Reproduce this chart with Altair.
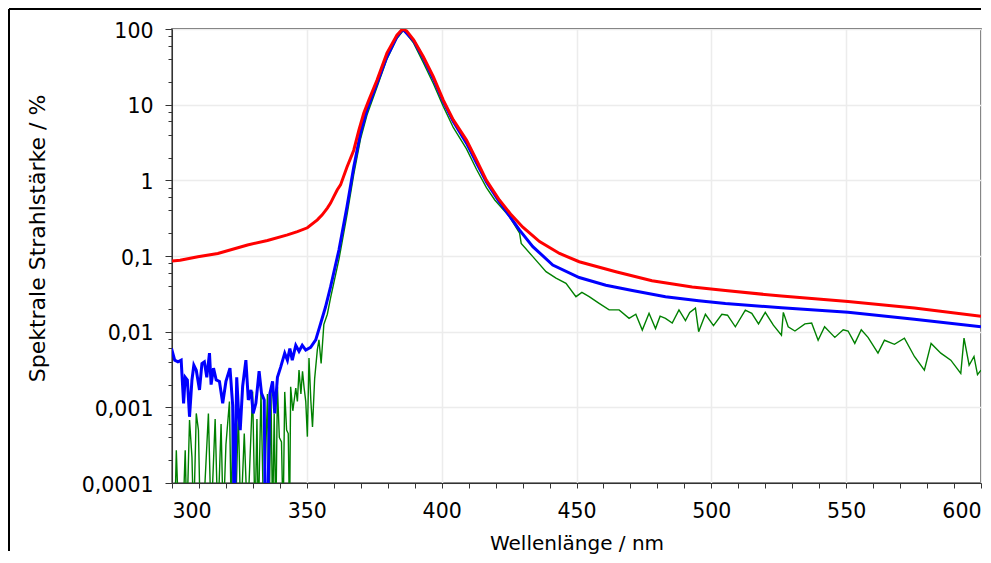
import altair as alt
import pandas as pd

# ---------------- data ----------------
red_nm = [300, 303, 309.6, 317, 328, 335.4, 342.8, 346.5, 350.2, 353.9, 355.7, 357.6,
          358.8, 360.0, 361.3, 362.5,
          364.9, 367.4, 369.3, 371.1, 373.0, 376.0, 379.7, 383.4, 385.5, 387.0, 389.6,
          393.2, 396.9, 400.6, 404.3, 409.2, 412.9, 416.6, 421.4, 425.8, 430.1, 436.3, 443.7,
          451, 464.6, 478, 492.9, 505.2, 526, 550.7, 575.3, 600]
red_val = [0.086, 0.088, 0.098, 0.108, 0.14, 0.16, 0.19, 0.21, 0.236, 0.30, 0.35, 0.43,
           0.50, 0.61, 0.75, 0.87,
           1.5, 2.5, 4.6, 7.7, 11.5, 21, 48, 83, 100, 94, 72,
           43, 23.5, 11.5, 6.3, 3.4, 1.86, 1.0, 0.55, 0.35, 0.24, 0.155, 0.108,
           0.084, 0.062, 0.047, 0.039, 0.035, 0.0295, 0.025, 0.0205, 0.016]

blue_nm = [299.8, 301.0, 302.2, 303.4, 304.3, 304.9, 305.7, 306.5, 307.4, 308.1, 309.0,
           310.2, 311.1, 312.0, 312.9, 313.9, 314.5, 315.4, 316.4, 317.6, 318.8, 320.0,
           321.5, 322.5, 323.1, 324.0, 324.7, 325.3, 326.2, 327.4, 328.3, 329.3, 330.1,
           331.1, 332.3, 333.2, 334.2, 334.6, 335.4, 336.3, 337.3, 338.1, 339.1, 340.3,
           341.8, 342.8, 343.7, 344.6, 345.9, 347.1, 348.3, 349.6, 351.4, 353.3, 355.1,
           356.9, 358.8, 361.9, 364.9, 367.4, 369.9, 372.3, 376.0, 379.7, 383.4, 385.6,
           389.6, 393.2, 396.9, 400.6, 404.3, 409.2, 412.9, 416.6, 420.9, 428.9, 433.8,
           441.2, 451, 460.9, 470.7, 483, 495.3, 505.2, 526, 550.7, 575.3, 600]
blue_val = [0.0060, 0.0042, 0.0040, 0.0042, 0.00113, 0.0025, 0.0023, 0.00075, 0.0023, 0.0036, 0.0031,
            0.0017, 0.0038, 0.0040, 0.0025, 0.0052, 0.0020, 0.0033, 0.0023, 0.0022, 0.00113, 0.0022,
            0.0033, 0.00107, 0.00003, 0.0025, 0.00083, 0.0005, 0.0019, 0.0042, 0.00125, 0.0017, 0.00083,
            0.00113, 0.0030, 0.00153, 0.00125, 0.00003, 0.00003, 0.00153, 0.0022, 0.00083, 0.0025, 0.0034,
            0.0052, 0.0042, 0.0060, 0.0042, 0.0066, 0.0055, 0.0066, 0.0057, 0.0062, 0.0078, 0.0128,
            0.021, 0.039, 0.12, 0.45, 1.5, 4.2, 8.5, 19, 43, 79, 99,
            70, 41, 22, 11, 6.0, 3.1, 1.7, 0.95, 0.55, 0.22, 0.133,
            0.076, 0.052, 0.041, 0.035, 0.029, 0.0257, 0.0235, 0.0207, 0.018, 0.0146, 0.0116]

green_nm = [300, 301, 301.6, 302.5, 304, 304.9, 305.5, 306.5, 307.4, 308, 309.0, 309.8,
            310.5, 311.5, 313.5, 314.5, 316.0, 317, 318.2, 319, 320.0, 321.3, 322, 322.5,
            323.5, 324.6, 325.5, 326.8, 328, 329.9, 330.8, 331.5, 332, 333.0, 334, 335.4,
            336.0, 336.7, 337.3, 337.9, 338.5, 339.1, 339.8, 340.6, 341.2, 341.8, 342.5,
            343.1, 343.6, 344.0, 344.8, 345.9, 346.5, 347.1, 347.8, 348.4, 349, 349.6,
            350.2, 350.8, 351.5, 352.1, 352.9, 353.9, 354.5, 355.3, 356.3, 357.6, 358.8,
            361.9, 364.9, 367.4, 369.9, 372.3, 376, 379.7, 383.4, 385.9, 389.6, 393.2,
            396.9, 400.6, 404.3, 409.2, 412.9, 416.6, 419.7, 425.2, 428.9, 429.5, 433.8,
            438.7, 442.4, 446.1, 449.8, 452, 454.7, 458.4, 462.1, 465.8, 469.5, 472,
            474.4, 476.9, 479.3, 481, 483, 485.5, 488, 490.4, 492, 494.1, 495.3, 497.8,
            500.8, 503.9, 506, 508.9, 512.6, 515, 517.5, 520, 523, 526, 526.7, 528.5,
            531, 534.7, 537.2, 539.6, 542, 545.8, 548.9, 550.7, 553.2, 555.6, 558.1,
            561.8, 564.2, 567.9, 571.6, 575.3, 579, 581.5, 585.1, 588.8, 592.5, 593.7,
            595.6, 597.4, 598.7, 600]
green_val = [0.00003, 0.00003, 0.00027, 0.00003, 0.00003, 0.00027, 0.00003, 0.00068, 0.00022, 0.00003, 0.00083, 0.0005,
             0.00003, 0.00003, 0.00083, 0.00003, 0.0007, 0.00003, 0.0006, 0.00003, 0.00032, 0.00119, 0.00003, 0.00083,
             0.00003, 0.00083, 0.00003, 0.00045, 0.00003, 0.00162, 0.00003, 0.0007, 0.00003, 0.00162, 0.00003, 0.0015,
             0.00003, 0.00162, 0.00003, 0.00083, 0.00003, 0.00187, 0.0004, 0.00035, 0.00003, 0.0016, 0.0005,
             0.00045, 0.00003, 0.00187, 0.0009, 0.0018, 0.0012, 0.0031, 0.0015, 0.0030, 0.0018, 0.0012,
             0.00041, 0.0045, 0.0012, 0.00055, 0.0024, 0.0058, 0.0078, 0.0038, 0.0124, 0.017, 0.028,
             0.09, 0.35, 1.2, 3.5, 7.3, 17, 40, 75, 97, 65, 36,
             19, 9.5, 5.0, 2.6, 1.4, 0.8, 0.55, 0.33, 0.2, 0.147, 0.098,
             0.062, 0.051, 0.0436, 0.029, 0.033, 0.029, 0.0237, 0.0194, 0.0194, 0.015, 0.017,
             0.0105, 0.0175, 0.011, 0.016, 0.015, 0.013, 0.0194, 0.014, 0.018, 0.0205, 0.010, 0.017,
             0.012, 0.017, 0.0165, 0.0116, 0.0193, 0.0175, 0.0127, 0.018, 0.0122, 0.009, 0.018, 0.0116,
             0.0102, 0.0127, 0.013, 0.0077, 0.0116, 0.0084, 0.0106, 0.0102, 0.0070, 0.0106, 0.0084,
             0.0052, 0.0077, 0.0068, 0.0082, 0.0047, 0.0031, 0.0070, 0.0052, 0.0042, 0.0028, 0.0082,
             0.0036, 0.0047, 0.0027, 0.0031]

x_ticks = list(range(300, 601, 10))
y_major = [0.0001, 0.001, 0.01, 0.1, 1, 10, 100]
y_ticks = sorted(set([round(m * d, 6) for d in [0.0001, 0.001, 0.01, 0.1, 1, 10] for m in (1, 2, 4, 6, 8)] + [100]))

# ---------------- chart ----------------
FONT = "DejaVu Sans"
W, H = 809, 454
LEFT = 164  # distance from chart left edge (frame) to plot area
MAJOR_Y = "indexof([0.0001, 0.001, 0.01, 0.1, 1, 10, 100], datum.value) >= 0"

x_axis = alt.Axis(
    values=x_ticks,
    title="Wellenlänge / nm",
    labelExpr="datum.value % 50 === 0 ? toString(datum.value) : ''",
    labelFlush=True,
    labelFontSize=20.5, titleFontSize=20, labelFont=FONT, titleFont=FONT,
    titleFontWeight="normal", labelColor="#000", titleColor="#000",
    tickSize=5, tickColor="#333", domainColor="#333", labelPadding=13,
    titlePadding=12,
    gridColor="#ececec", gridWidth=1.5,
    gridOpacity={"condition": {"test": "datum.value % 50 === 0", "value": 1}, "value": 0},
)

y_axis = alt.Axis(
    values=y_ticks,
    title="Spektrale Strahlstärke / %",
    labelExpr=MAJOR_Y + " ? replace(toString(datum.value), '.', ',') : ''",
    labelFontSize=20.5, titleFontSize=22, labelFont=FONT, titleFont=FONT,
    titleFontWeight="normal", labelColor="#000", titleColor="#000",
    tickSize={"condition": {"test": MAJOR_Y, "value": 7}, "value": 4},
    tickColor="#333", domainColor="#333", labelPadding=12, labelOffset=2,
    titleX=37 - 8 - LEFT, titleY=209, titleBaseline="middle", titleAngle=270,
    gridColor="#ececec", gridWidth=1.5,
    gridOpacity={"condition": {"test": MAJOR_Y, "value": 1}, "value": 0},
)

x_enc = alt.X("nm:Q", scale=alt.Scale(domain=[300, 600], nice=False, zero=False), axis=x_axis)
y_enc = alt.Y("val:Q", scale=alt.Scale(type="log", domain=[0.0001, 100], nice=False), axis=y_axis)


def series(nm, val, color, width):
    d = pd.DataFrame({"nm": nm, "val": val})
    return alt.Chart(d).mark_line(clip=True, color=color, strokeWidth=width).encode(
        x=x_enc, y=y_enc, order=alt.Order("nm:Q"))


green = series(green_nm, green_val, "#008000", 1.4)
blue = series(blue_nm, blue_val, "#0000ff", 3)
red = series(red_nm, red_val, "#ff0000", 3)

one = pd.DataFrame({"k": [0]})
top_rule = alt.Chart(one).mark_rule(color="#000", strokeWidth=2).encode(
    x=alt.value(-LEFT + 1), x2=alt.value(W), y=alt.value(-20))
left_rule = alt.Chart(one).mark_rule(color="#000", strokeWidth=2).encode(
    x=alt.value(-LEFT + 1), y=alt.value(-20), y2=alt.value(522))

chart = alt.layer(green, blue, red, top_rule, left_rule).properties(
    width=W, height=H, padding=0, background="white"
).configure_view(stroke="#333", strokeWidth=1.5)

chart.save("out.html", embed_options={"renderer": "svg", "actions": False})
